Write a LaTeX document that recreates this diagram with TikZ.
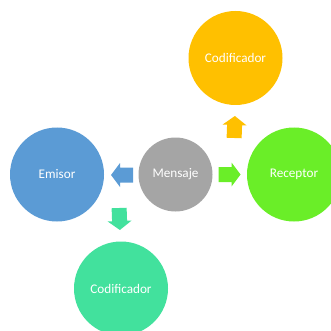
\documentclass[tikz,border=0pt]{standalone}
\usepackage{fontspec}
\setmainfont{Carlito}
\definecolor{cblue}{HTML}{5B9BD5}
\definecolor{cgray}{HTML}{A5A5A5}
\definecolor{corange}{HTML}{FFC000}
\definecolor{cgreen}{HTML}{6AEE28}
\definecolor{cteal}{HTML}{42E19D}
\tikzset{
  bubble/.style={circle, minimum size=94pt, inner sep=0pt, text=white,
    font=\fontsize{13.2}{15}\selectfont},
  center bubble/.style={bubble, minimum size=74pt},
  pics/bigarrow/.style={code={
    \fill[pic actions] (-11pt,-7.5pt) -- (2pt,-7.5pt) -- (2pt,-12pt) -- (11pt,0pt)
      -- (2pt,12pt) -- (2pt,7.5pt) -- (-11pt,7.5pt) -- cycle;
    \coordinate (-c) at (0,0);
  }}
}
\begin{document}
\begin{tikzpicture}[x=1pt,y=-1pt]
\useasboundingbox (0,0) rectangle (331,331);
\clip (0,0) rectangle (331,331);
\node[center bubble, fill=cgray] (M) at (175.5,174.5) {Mensaje};
\node[bubble, fill=cblue] (E) at (57,174.5) {Emisor};
\node[bubble, fill=cgreen] (R) at (294,174.5) {Receptor};
\node[bubble, fill=corange] (T) at (235.5,58) {Codificador};
\node[bubble, fill=cteal] (B) at (121,288.5) {Codificador};
\pic[fill=cblue, rotate=180] (a1) at (122,175) {bigarrow};
\pic[fill=cgreen] (a2) at (229.5,174.5) {bigarrow};
\pic[fill=corange, rotate=88] (a3) at (234.5,127) {bigarrow};
\pic[fill=cteal, rotate=272] (a4) at (119.5,219) {bigarrow};
\end{tikzpicture}
\end{document}
